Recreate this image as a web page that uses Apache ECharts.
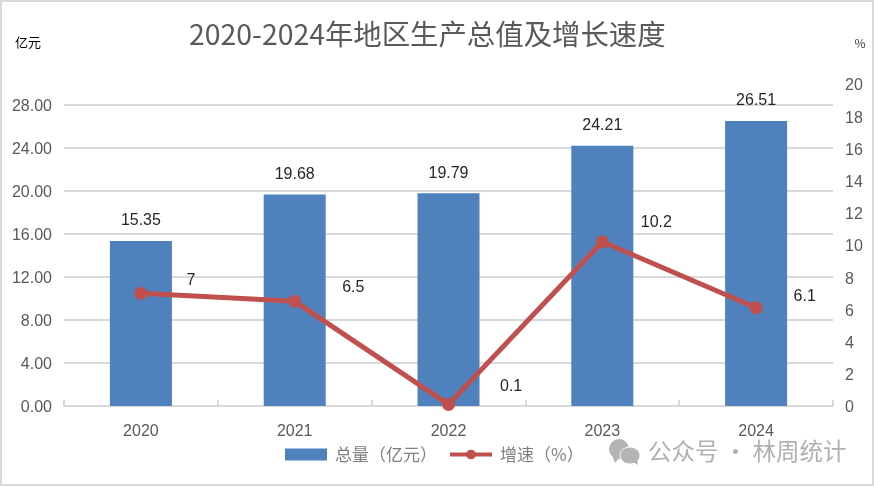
<!DOCTYPE html>
<html lang="zh">
<head>
    <meta charset="UTF-8">
    <title>地区生产总值</title>
    <script src="https://cdn.jsdelivr.net/npm/echarts@6/dist/echarts.min.js"></script>
    <style>
        html, body { margin: 0; padding: 0; background: #fff; }
        #frame {
            position: absolute; left: 0; top: 0; width: 870px; height: 482px;
            border: 2px solid #d9d9d9;
        }
        #chart { position: absolute; left: 0; top: 0; width: 874px; height: 486px; }
    </style>
</head>
<body>
    <div id="frame"></div>
    <div id="chart"></div>
    <script>
        const years = ['2020', '2021', '2022', '2023', '2024'];
        const totals = [15.35, 19.68, 19.79, 24.21, 26.51];
        const growth = [7, 6.5, 0.1, 10.2, 6.1];
        // 折线标签相对数据点的偏移
        const growthLabelOffsets = [[34, -13], [36, -14], [40, -18], [27, -19], [26, -11]];

        const font = '"Liberation Sans", "Noto Sans CJK SC", sans-serif';
        const cjk = '"Noto Sans CJK SC", sans-serif';

        const chart = echarts.init(document.getElementById('chart'));
        chart.setOption({
            animation: false,
            title: {
                text: '2020-2024年地区生产总值及增长速度',
                left: 184,
                top: 15,
                textStyle: { fontFamily: cjk, fontSize: 28.4, fontWeight: 'normal', color: '#595959' }
            },
            legend: {
                left: 280,
                top: 441,
                itemWidth: 42,
                itemHeight: 12,
                itemGap: 11,
                textStyle: { fontFamily: cjk, fontSize: 17, color: '#7f7f7f', padding: [0, 0, 0, 3] },
                lineStyle: { width: 4 },
                data: [{ name: '总量（亿元）', icon: 'rect' }, { name: '增速（%）' }]
            },
            grid: { left: 64, right: 41, top: 84, bottom: 80 },
            xAxis: {
                type: 'category',
                data: years,
                axisLine: { lineStyle: { color: '#d9d9d9', width: 2 } },
                axisTick: { show: true, inside: true, length: 6, lineStyle: { color: '#d9d9d9', width: 2 } },
                axisLabel: { fontFamily: font, fontSize: 16, color: '#595959', margin: 18 }
            },
            yAxis: [
                {
                    type: 'value',
                    min: 0,
                    max: 29.95,
                    interval: 4,
                    name: '亿元',
                    nameGap: 35,
                    nameTextStyle: { fontFamily: cjk, fontSize: 13, color: '#000', padding: [0, 72, 0, 0] },
                    axisLine: { show: false },
                    axisTick: { show: false },
                    axisLabel: {
                        fontFamily: font, fontSize: 16, color: '#595959', margin: 12, showMaxLabel: false,
                        verticalAlign: 'top', lineHeight: 4,
                        formatter: v => v.toFixed(2)
                    },
                    splitLine: { showMaxLine: false, lineStyle: { color: '#d9d9d9', width: 2 } }
                },
                {
                    type: 'value',
                    min: 0,
                    max: 20,
                    interval: 2,
                    name: '%',
                    nameGap: 35,
                    nameTextStyle: { fontFamily: cjk, fontSize: 12, color: '#404040', padding: [0, 0, 0, 54] },
                    axisLine: { show: false },
                    axisTick: { show: false },
                    axisLabel: {
                        fontFamily: font, fontSize: 16, color: '#595959', margin: 12,
                        verticalAlign: 'top', lineHeight: 4
                    },
                    splitLine: { show: false }
                }
            ],
            series: [
                {
                    name: '总量（亿元）',
                    type: 'bar',
                    barWidth: 62,
                    data: totals,
                    itemStyle: { color: '#4f81bd' },
                    label: {
                        show: true, position: 'top', distance: 12,
                        fontFamily: font, fontSize: 16, color: '#262626',
                        formatter: p => p.value.toFixed(2)
                    }
                },
                {
                    name: '增速（%）',
                    type: 'line',
                    yAxisIndex: 1,
                    symbol: 'circle',
                    symbolSize: 13,
                    clip: false,
                    lineStyle: { color: '#c0504d', width: 5 },
                    itemStyle: { color: '#c0504d' },
                    data: growth.map((v, i) => ({
                        value: v,
                        label: { offset: growthLabelOffsets[i] }
                    })),
                    label: {
                        show: true, position: 'right',
                        fontFamily: font, fontSize: 16, color: '#262626'
                    }
                }
            ],
            graphic: [
                { type: 'circle', shape: { cx: 619, cy: 449, r: 10 }, style: { fill: '#b4b4b4' }, z: 10 },
                { type: 'polygon', shape: { points: [[612, 455], [615, 463], [620, 457]] }, style: { fill: '#b4b4b4' }, z: 10 },
                { type: 'ellipse', shape: { cx: 630, cy: 455.5, rx: 10, ry: 8.5 }, style: { fill: '#b4b4b4', stroke: '#fff', lineWidth: 1 }, z: 11 },
                { type: 'polygon', shape: { points: [[633, 462], [638, 465], [637, 460]] }, style: { fill: '#b4b4b4' }, z: 11 },
                {
                    type: 'text', x: 648, y: 439, z: 11,
                    style: { text: '公众号 · 林周统计', fontFamily: cjk, fontSize: 23.5, fill: '#b0b0b0' }
                }
            ]
        });
    </script>
</body>
</html>
